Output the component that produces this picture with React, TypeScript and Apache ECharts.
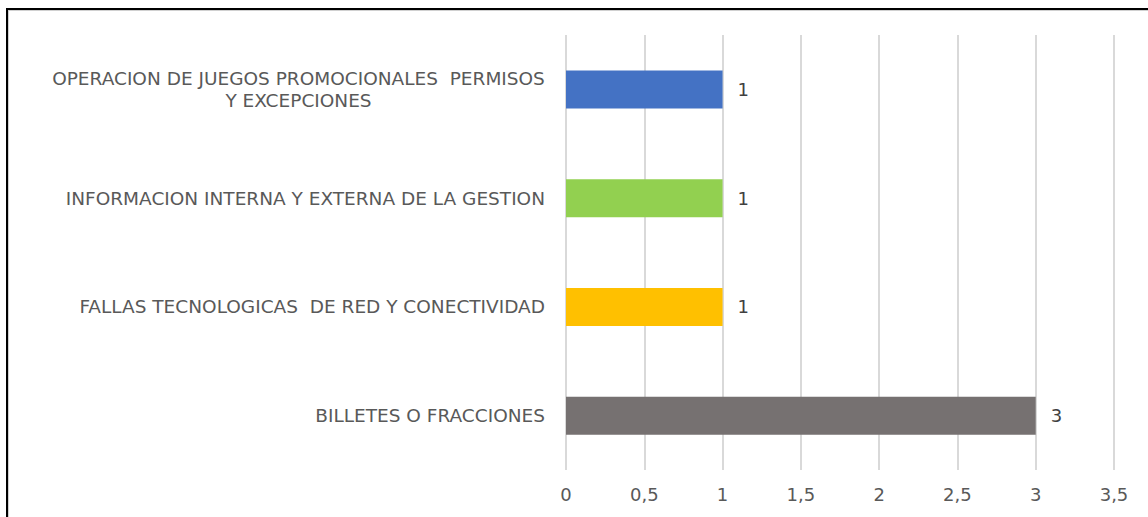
import React, { useEffect, useRef } from "react";
import * as echarts from "echarts";

const categories = [
  "OPERACION DE JUEGOS PROMOCIONALES  PERMISOS\nY EXCEPCIONES",
  "INFORMACION INTERNA Y EXTERNA DE LA GESTION",
  "FALLAS TECNOLOGICAS  DE RED Y CONECTIVIDAD",
  "BILLETES O FRACCIONES",
];
const values = [1, 1, 1, 3];
const colors = ["#4472C4", "#92D050", "#FFC000", "#767171"];

export default function App() {
  const ref = useRef<HTMLDivElement>(null);
  useEffect(() => {
    if (!ref.current) return;
    const chart = echarts.init(ref.current, undefined, { renderer: "svg" });
    const font = "'DejaVu Sans', sans-serif";
    const size = 18.5;
    const ctx = document.createElement("canvas").getContext("2d")!;
    ctx.font = `${size}px 'DejaVu Sans'`;
    const measure = (s: string) => Math.ceil(ctx.measureText(s).width);
    chart.setOption({
      animation: false,
      backgroundColor: "#ffffff",
      grid: { left: 566, right: 34, top: 35, bottom: 47 },
      xAxis: {
        type: "value",
        min: 0,
        max: 3.5,
        interval: 0.5,
        axisLine: { show: false },
        axisTick: { show: false },
        splitLine: { lineStyle: { color: "#D9D9D9", width: 2 } },
        axisLabel: {
          color: "#595959",
          fontSize: 18,
          fontFamily: font,
          margin: 15,
          formatter: (v: number) => String(v).replace(".", ","),
        },
      },
      yAxis: {
        type: "category",
        inverse: true,
        data: categories,
        axisLine: { show: false },
        axisTick: { show: false },
        axisLabel: {
          margin: 21,
          color: "#595959",
          fontSize: size,
          fontFamily: font,
          formatter: (v: string) => {
            if (!v.includes("\n")) return v;
            const lines = v.split("\n");
            const w = Math.max(...lines.map(measure));
            return lines.map((l) => `{c${w}|${l}}`).join("\n");
          },
          rich: Object.fromEntries(
            categories
              .filter((c) => c.includes("\n"))
              .map((c) => {
                const w = Math.max(...c.split("\n").map(measure));
                return [
                  `c${w}`,
                  {
                    width: w,
                    align: "center",
                    color: "#595959",
                    fontSize: size,
                    fontFamily: font,
                    lineHeight: 22,
                  },
                ];
              })
          ),
        },
      },
      series: [
        {
          type: "bar",
          barWidth: 38,
          data: values.map((v, i) => ({ value: v, itemStyle: { color: colors[i] } })),
          label: {
            show: true,
            position: "right",
            distance: 15,
            color: "#404040",
            fontSize: 18,
            fontFamily: font,
          },
        },
      ],
      graphic: [
        { type: "rect", shape: { x: 6, y: 8, width: 2, height: 520 }, style: { fill: "#000" } },
        { type: "rect", shape: { x: 6, y: 8, width: 1150, height: 2 }, style: { fill: "#000" } },
        { type: "rect", shape: { x: 8, y: 10, width: 1, height: 520 }, style: { fill: "#D0D0D0" } },
        { type: "rect", shape: { x: 8, y: 10, width: 1150, height: 1 }, style: { fill: "#D0D0D0" } },
      ],
    });
    return () => chart.dispose();
  }, []);
  return (
    <div
      ref={ref}
      style={{ position: "fixed", left: 0, top: 0, width: 1148, height: 517 }}
    />
  );
}
